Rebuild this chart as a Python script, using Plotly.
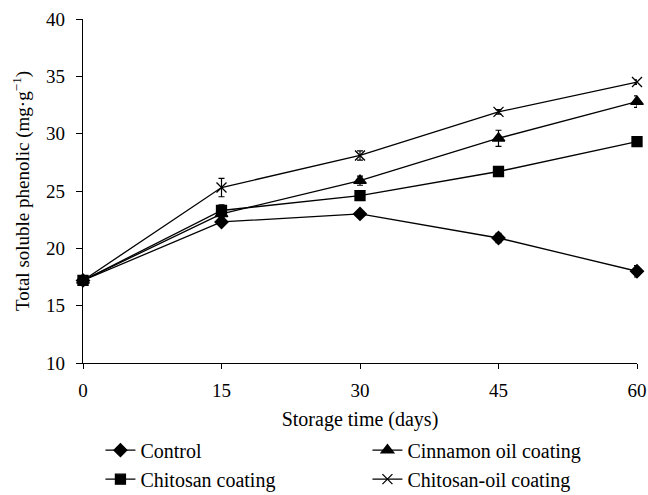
import plotly.graph_objects as go

days = [0, 15, 30, 45, 60]
series_names = ["Control", "Cinnamon oil coating", "Chitosan coating", "Chitosan-oil coating"]
control = [17.2, 22.3, 23.0, 20.9, 18.0]
cinnamon = [17.2, 23.0, 25.9, 29.6, 32.8]
chitosan = [17.2, 23.3, 24.6, 26.7, 29.3]
chitosan_oil = [17.2, 25.3, 28.1, 31.9, 34.5]
control_err = [0.1, 0.3, 0.2, 0.4, 0.5]
cinnamon_err = [0.1, 0.3, 0.4, 0.7, 0.5]
chitosan_err = [0.1, 0.5, 0.2, 0.2, 0.4]
chitosan_oil_err = [0.1, 0.8, 0.4, 0.2, 0.2]
symbols = ["diamond", "triangle-up", "square", "x-thin-open"]
sizes = [10, 11, 10, 10]

FONT = "Liberation Serif"
fig = go.Figure()
for name, ys, err, sym, sz in zip(series_names,
                                  [control, cinnamon, chitosan, chitosan_oil],
                                  [control_err, cinnamon_err, chitosan_err, chitosan_oil_err],
                                  symbols, sizes):
    fig.add_trace(go.Scatter(
        x=days, y=ys, name=name, mode="lines+markers",
        line=dict(color="black", width=1.3),
        marker=dict(symbol=sym, size=sz, color="black",
                    line=dict(color="black", width=1.3)),
        error_y=dict(type="data", array=err, visible=True, color="black",
                     thickness=1.2, width=3),
        cliponaxis=False,
    ))

fig.update_layout(
    width=648, height=495,
    margin=dict(l=83, r=11, t=19, b=132, autoexpand=False),
    paper_bgcolor="white", plot_bgcolor="white",
    font=dict(family=FONT, size=19, color="black"),
    showlegend=True,
    legend=dict(orientation="h", xref="container", yref="container",
                x=0.155, y=0.13, xanchor="left", yanchor="top",
                entrywidth=222, entrywidthmode="pixels",
                font=dict(family=FONT, size=20), tracegroupgap=0,
                bgcolor="rgba(0,0,0,0)"),
    xaxis=dict(range=[0, 60], tickvals=days, showline=True, linecolor="black",
               linewidth=1.3, ticks="outside", ticklen=5, tickcolor="black",
               ticklabelstandoff=5, automargin=False,
               showgrid=False, zeroline=False,
               title=dict(text="Storage time (days)", standoff=14,
                          font=dict(family=FONT, size=20))),
    yaxis=dict(range=[10, 40], tickvals=[10, 15, 20, 25, 30, 35, 40], showline=True,
               linecolor="black", linewidth=1.3, ticks="outside", ticklen=6,
               tickcolor="black", showgrid=False, zeroline=False,
               ticklabelstandoff=7, automargin=False,
               title=dict(text="Total soluble phenolic (mg·g<sup>−1</sup>)", standoff=11,
                          font=dict(family=FONT, size=19))),
)

fig.write_html("out.html")
